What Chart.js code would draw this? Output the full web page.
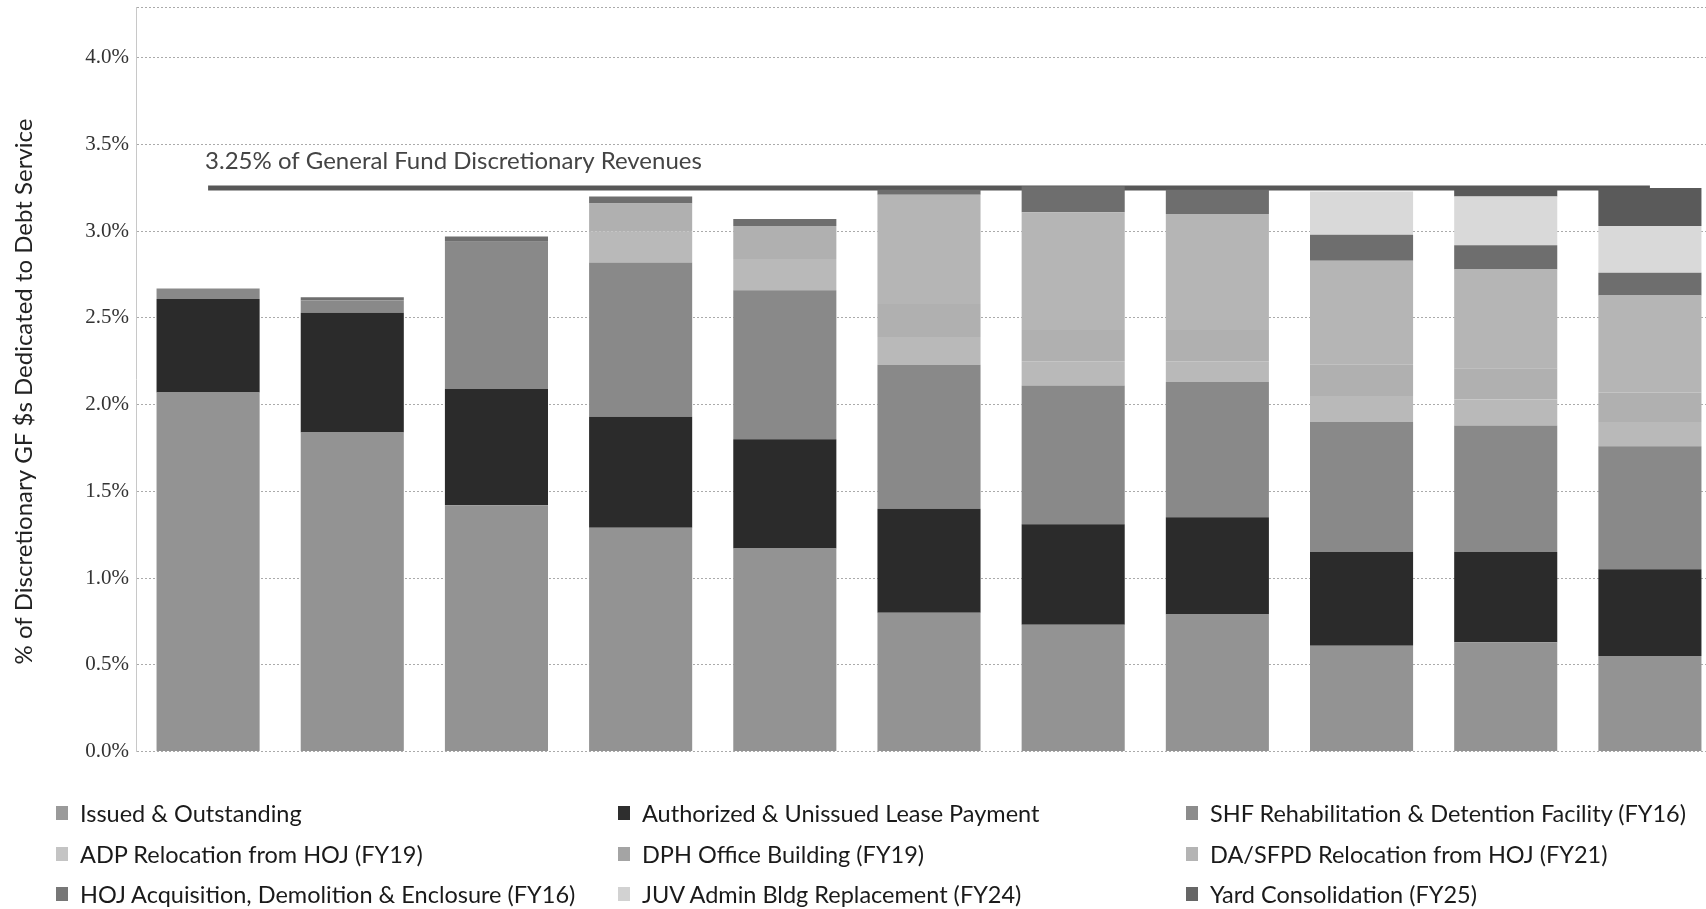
<!DOCTYPE html>
<html>
<head>
<meta charset="utf-8">
<script src="https://cdn.jsdelivr.net/npm/chart.js@4/dist/chart.umd.min.js"></script>
<style>
  html, body { margin: 0; padding: 0; background: #fff; overflow: hidden; }
  body { width: 1706px; height: 909px; position: relative; }
  #wrap { position: absolute; left: 0; top: -12px; width: 1740px; height: 783px; }
  #legend { position: absolute; left: 0; top: 0; width: 1706px; height: 909px; pointer-events: none; }
  .item { position: absolute; display: flex; align-items: center; font-family: Lato, sans-serif;
          font-size: 23.5px; color: #1a1a1a; white-space: nowrap; height: 28px; }
  .sw { width: 12px; height: 14px; margin-right: 12px; }
</style>
</head>
<body>
<div id="wrap"><canvas id="myChart"></canvas></div>
<div id="legend"></div>
<script>
// fiscal years (x labels are not shown on the original)
const years = ["FY16", "FY17", "FY18", "FY19", "FY20", "FY21", "FY22", "FY23", "FY24", "FY25", "FY26"];

const seriesNames = [
  "Issued & Outstanding",
  "Authorized & Unissued Lease Payment",
  "SHF Rehabilitation & Detention Facility (FY16)",
  "ADP Relocation from HOJ (FY19)",
  "DPH Office Building (FY19)",
  "DA/SFPD Relocation from HOJ (FY21)",
  "HOJ Acquisition, Demolition & Enclosure (FY16)",
  "JUV Admin Bldg Replacement (FY24)",
  "Yard Consolidation (FY25)",
];

// % of discretionary GF revenues
const issued     = [2.07, 1.84, 1.42, 1.29, 1.17, 0.80, 0.73, 0.79, 0.61, 0.63, 0.55];
const authorized = [0.54, 0.69, 0.67, 0.64, 0.63, 0.60, 0.58, 0.56, 0.54, 0.52, 0.50];
const shf        = [0.06, 0.07, 0.85, 0.89, 0.86, 0.83, 0.80, 0.78, 0.75, 0.73, 0.71];
const adp        = [0, 0, 0, 0.18, 0.18, 0.16, 0.14, 0.12, 0.15, 0.15, 0.14];
const dph        = [0, 0, 0, 0.16, 0.19, 0.19, 0.18, 0.18, 0.18, 0.18, 0.17];
const daSfpd     = [0, 0, 0, 0, 0, 0.63, 0.68, 0.67, 0.60, 0.57, 0.56];
const hoj        = [0, 0.02, 0.03, 0.04, 0.04, 0.03, 0.15, 0.14, 0.15, 0.14, 0.13];
const juv        = [0, 0, 0, 0, 0, 0, 0, 0, 0.25, 0.28, 0.27];
const yard       = [0, 0, 0, 0, 0, 0, 0, 0, 0, 0.04, 0.22];

const limit = 3.25;
const limitLabel = "3.25% of General Fund Discretionary Revenues";
const yTitle = "% of Discretionary GF $s Dedicated to Debt Service";
const yMax = 4.29;

const seriesData = [issued, authorized, shf, adp, dph, daSfpd, hoj, juv, yard];
const barColors = ["#939393", "#2b2b2b", "#898989", "#b9b9b9", "#b0b0b0", "#b5b5b5", "#6e6e6e", "#d9d9d9", "#5a5a5a"];
const legendColors = ["#9a9a9a", "#2e2e2e", "#8c8c8c", "#c4c4c4", "#a4a4a4", "#b4b4b4", "#777777", "#d2d2d2", "#666666"];

const barSets = seriesData.map((d, i) => ({
  type: "bar",
  label: seriesNames[i],
  data: d,
  backgroundColor: barColors[i],
  borderWidth: 0,
  stack: "debt",
  order: 0,
  barPercentage: 0.715,
  categoryPercentage: 1,
}));

const limitSet = {
  type: "line",
  label: limitLabel,
  data: years.map(() => limit),
  borderColor: "#575757",
  borderWidth: 5,
  pointRadius: 0,
  fill: false,
  order: 1,
};

// text above the 3.25% line, plus the rotated axis title
const extraText = {
  id: "extraText",
  afterDatasetsDraw(chart) {
    const { ctx, scales } = chart;
    const x = scales.x.getPixelForValue(0) - 3;
    const y = scales.y.getPixelForValue(limit) - 27;
    ctx.save();
    ctx.font = "24px Lato";
    ctx.fillStyle = "#444";
    ctx.textAlign = "left";
    ctx.textBaseline = "middle";
    ctx.fillText(limitLabel, x, y);

    // axis title, centred a bit below the middle of the plot like the original
    const midY = (scales.y.getPixelForValue(0) + scales.y.getPixelForValue(yMax)) / 2 + 12;
    ctx.translate(24, midY);
    ctx.rotate(-Math.PI / 2);
    ctx.font = "24px Lato";
    ctx.fillStyle = "#222";
    ctx.textAlign = "center";
    ctx.fillText(yTitle, 0, 0);
    ctx.restore();
  },
};

const ctx = document.getElementById("myChart").getContext("2d");
const chart = new Chart(ctx, {
  data: { labels: years, datasets: [...barSets, limitSet] },
  plugins: [extraText],
  options: {
    responsive: true,
    maintainAspectRatio: false,
    animation: false,
    devicePixelRatio: 1,
    layout: { padding: { top: 9, right: 18, bottom: 12, left: 0 } },
    plugins: {
      legend: { display: false },
      tooltip: { enabled: false },
    },
    scales: {
      x: {
        stacked: true,
        ticks: { display: false },
        grid: { display: false },
        border: { display: false },
        afterFit: (s) => { s.height = 0; },
      },
      y: {
        stacked: true,
        min: 0,
        max: yMax,
        afterFit: (s) => { s.width = 136; },
        ticks: {
          stepSize: 0.5,
          padding: 7,
          color: "#333",
          font: { family: "'Liberation Serif'", size: 21 },
          callback: (v) => (v <= 4.0001 ? v.toFixed(1) + "%" : ""),
        },
        grid: { color: "#aaaaaa", lineWidth: 1, drawTicks: false },
        border: { display: true, color: "#c8c8c8", dash: [2, 2] },
      },
    },
  },
});

// legend laid out in three columns like the original
const legendCols = [56, 618, 1186];
const legendRows = [813, 854, 894];
const legend = document.getElementById("legend");
chart.data.datasets.filter((ds) => ds.type === "bar").forEach((ds, i) => {
  const item = document.createElement("div");
  item.className = "item";
  item.style.left = legendCols[i % 3] + "px";
  item.style.top = legendRows[Math.floor(i / 3)] - 14 + "px";
  const sw = document.createElement("span");
  sw.className = "sw";
  sw.style.background = legendColors[i];
  const txt = document.createElement("span");
  txt.textContent = ds.label;
  item.appendChild(sw);
  item.appendChild(txt);
  legend.appendChild(item);
});
</script>
</body>
</html>
